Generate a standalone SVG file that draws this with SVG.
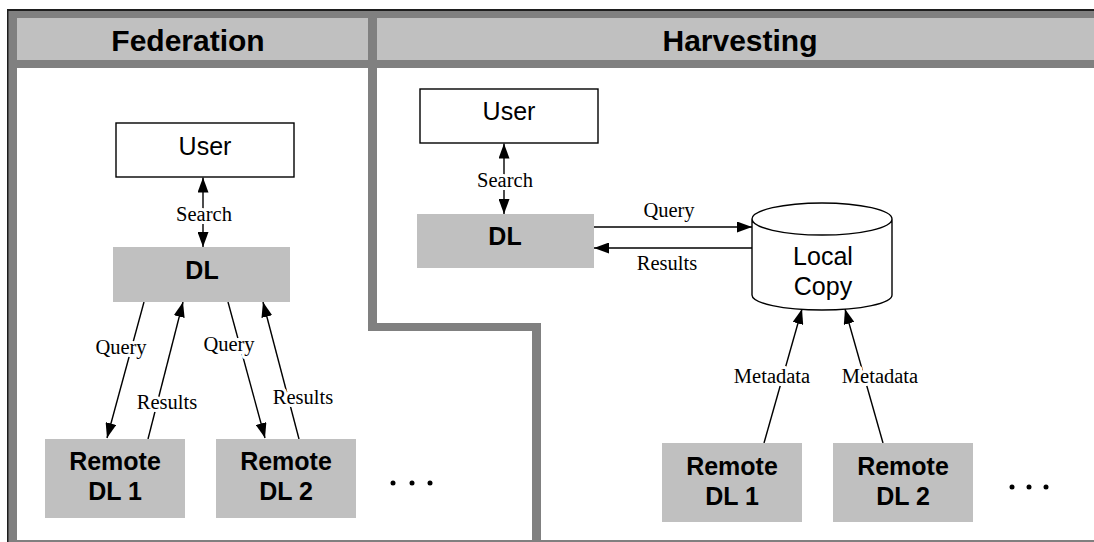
<svg xmlns="http://www.w3.org/2000/svg" width="1094" height="542" viewBox="0 0 1094 542">
<style>
.frame{fill:#808080}
.hdr{fill:#c0c0c0}
.panel{fill:#ffffff}
.htxt{font-family:"Liberation Sans",Arial,sans-serif;font-weight:bold;font-size:30px;text-anchor:middle;fill:#000}
.box{fill:#ffffff;stroke:#000;stroke-width:1.4}
.gbox{fill:#c0c0c0}
.ntxt{font-family:"Liberation Sans",Arial,sans-serif;font-size:25px;text-anchor:middle;fill:#000}
.btxt{font-family:"Liberation Sans",Arial,sans-serif;font-weight:bold;font-size:25px;text-anchor:middle;fill:#000}
.cyl{fill:#ffffff;stroke:#000;stroke-width:1.4}
.edge{stroke:#000;stroke-width:1.4;fill:none;marker-end:url(#ah)}
.both{marker-start:url(#ah)}
.lbl{font-family:"Liberation Serif","Times New Roman",serif;font-size:20.5px;text-anchor:middle;fill:#000;stroke:#fff;stroke-width:6;paint-order:stroke;stroke-linejoin:round}
.dot{fill:#000}
</style>
<defs>
<marker id="ah" markerUnits="userSpaceOnUse" markerWidth="15" markerHeight="11" refX="15" refY="5.5" orient="auto-start-reverse" viewBox="0 0 15 11">
<path d="M0,0 L15,5.5 L0,11 z" fill="#000"/>
</marker>
</defs>
<rect width="1094" height="542" fill="#ffffff"/>
<g id="frame">
<rect class="frame" x="7" y="9" width="1087" height="533"/>
<rect x="7" y="9" width="1087" height="2" fill="#1e1e1e"/>
<rect x="7" y="9" width="1.5" height="533" fill="#1e1e1e"/>
<rect class="hdr" x="17" y="18" width="351" height="42"/>
<rect class="hdr" x="377" y="18" width="717" height="42"/>
<polygon class="panel" points="17,68 368,68 368,331 532,331 532,540 17,540"/>
<polygon class="panel" points="377,68 1094,68 1094,540 541,540 541,323 377,323"/>
<text class="htxt" x="188" y="51">Federation</text>
<text class="htxt" x="740" y="51">Harvesting</text>
</g>
<g id="connectors">
<line class="edge both" x1="203" y1="177.5" x2="203" y2="247"/>
<text class="lbl" x="204" y="221">Search</text>
<line class="edge" x1="144" y1="302" x2="107" y2="438"/>
<line class="edge" x1="148" y1="439" x2="183" y2="302"/>
<line class="edge" x1="228" y1="302" x2="265" y2="438"/>
<line class="edge" x1="299" y1="439" x2="263" y2="302"/>
<text class="lbl" x="121" y="354">Query</text>
<text class="lbl" x="167" y="409">Results</text>
<text class="lbl" x="229" y="351">Query</text>
<text class="lbl" x="303" y="404">Results</text>
<line class="edge both" x1="504" y1="143.5" x2="504" y2="214"/>
<text class="lbl" x="505" y="187">Search</text>
<line class="edge" x1="594" y1="227" x2="752" y2="227"/>
<line class="edge" x1="752" y1="248" x2="594" y2="248"/>
<text class="lbl" x="669" y="217">Query</text>
<text class="lbl" x="667" y="270">Results</text>
<line class="edge" x1="764" y1="443" x2="802" y2="309"/>
<line class="edge" x1="883" y1="443" x2="845" y2="309"/>
<text class="lbl" x="772" y="383">Metadata</text>
<text class="lbl" x="880" y="383">Metadata</text>
</g>
<g id="fed-user">
<rect class="box" x="116" y="123" width="178" height="54"/>
<text class="ntxt" x="205" y="155">User</text>
</g>
<g id="fed-dl">
<rect class="gbox" x="113" y="247" width="177" height="55"/>
<text class="btxt" x="202" y="279">DL</text>
</g>
<g id="fed-remote1">
<rect class="gbox" x="45" y="439" width="140" height="79"/>
<text class="btxt" x="115" y="470">Remote</text>
<text class="btxt" x="115" y="500">DL 1</text>
</g>
<g id="fed-remote2">
<rect class="gbox" x="216" y="439" width="140" height="79"/>
<text class="btxt" x="286" y="470">Remote</text>
<text class="btxt" x="286" y="500">DL 2</text>
</g>
<g id="fed-more">
<circle class="dot" cx="393" cy="483" r="2.5"/>
<circle class="dot" cx="412" cy="483" r="2.5"/>
<circle class="dot" cx="430" cy="483" r="2.5"/>
</g>
<g id="harv-user">
<rect class="box" x="420" y="89" width="178" height="54"/>
<text class="ntxt" x="509" y="120">User</text>
</g>
<g id="harv-dl">
<rect class="gbox" x="417" y="214" width="177" height="54"/>
<text class="btxt" x="505" y="245">DL</text>
</g>
<g id="harv-local">
<path class="cyl" d="M752,219 L752,295 A70,15 0 0 0 892,295 L892,219 A70,16 0 0 0 752,219 A70,16 0 0 0 892,219"/>
<text class="ntxt" x="823" y="265">Local</text>
<text class="ntxt" x="823" y="295">Copy</text>
</g>
<g id="harv-remote1">
<rect class="gbox" x="662" y="443" width="140" height="79"/>
<text class="btxt" x="732" y="475">Remote</text>
<text class="btxt" x="732" y="505">DL 1</text>
</g>
<g id="harv-remote2">
<rect class="gbox" x="833" y="443" width="140" height="79"/>
<text class="btxt" x="903" y="475">Remote</text>
<text class="btxt" x="903" y="505">DL 2</text>
</g>
<g id="harv-more">
<circle class="dot" cx="1012" cy="487" r="2.5"/>
<circle class="dot" cx="1029" cy="487" r="2.5"/>
<circle class="dot" cx="1046" cy="487" r="2.5"/>
</g>
</svg>
